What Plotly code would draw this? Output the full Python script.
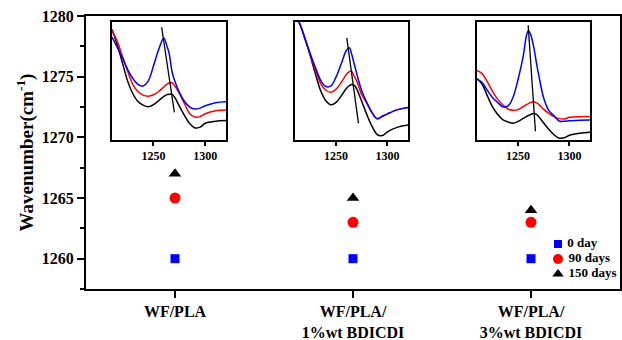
import plotly.graph_objects as go

# ---------------- main data ----------------
categories = ["WF/PLA", "WF/PLA/<br>1%wt BDICDI", "WF/PLA/<br>3%wt BDICDI"]
cat_pos = [0, 1, 2]
day0 = [1260, 1260, 1260]
day90 = [1265, 1263, 1263]
day150 = [1267, 1265, 1264]
y_ticks = [1260, 1265, 1270, 1275, 1280]
series_names = ["0 day", "90 days", "150 days"]

# ---------------- inset spectra (arbitrary units) ----------------
ins1_x = [1210, 1215, 1220, 1225, 1230, 1235, 1240, 1245, 1250, 1255, 1260, 1263,
          1265, 1268, 1270, 1275, 1280, 1285, 1290, 1295, 1300, 1310, 1320]
ins1_blue = [0.870, 0.785, 0.694, 0.595, 0.518, 0.467, 0.453, 0.496, 0.623, 0.765, 0.864, 0.793,
             0.737, 0.572, 0.510, 0.397, 0.320, 0.272, 0.255, 0.263, 0.283, 0.309, 0.317]
ins1_red = [0.926, 0.836, 0.708, 0.581, 0.467, 0.405, 0.374, 0.365, 0.377, 0.405, 0.445, 0.468,
            0.478, 0.480, 0.460, 0.388, 0.300, 0.215, 0.187, 0.190, 0.215, 0.240, 0.246]
ins1_black = [0.935, 0.807, 0.652, 0.496, 0.388, 0.320, 0.289, 0.275, 0.292, 0.326, 0.363, 0.378,
              0.382, 0.380, 0.362, 0.280, 0.198, 0.130, 0.093, 0.100, 0.133, 0.150, 0.156]
ins1_line_x = [1257.9, 1270.2]
ins1_line_y = [0.955, 0.227]

ins2_x = ins1_x
ins2_blue = [1.06, 0.977, 0.850, 0.722, 0.609, 0.501, 0.448, 0.453, 0.530, 0.643, 0.756, 0.780,
             0.728, 0.630, 0.560, 0.411, 0.309, 0.224, 0.172, 0.193, 0.214, 0.250, 0.269]
ins2_red = [1.06, 0.977, 0.850, 0.722, 0.586, 0.473, 0.416, 0.399, 0.425, 0.482, 0.552, 0.575,
            0.578, 0.530, 0.496, 0.377, 0.303, 0.224, 0.172, 0.193, 0.214, 0.250, 0.269]
ins2_black = [1.06, 0.977, 0.850, 0.708, 0.552, 0.411, 0.326, 0.292, 0.312, 0.368, 0.431, 0.455,
              0.465, 0.455, 0.427, 0.320, 0.205, 0.106, 0.037, 0.028, 0.060, 0.100, 0.119]
ins2_line_x = [1260.4, 1271.8]
ins2_line_y = [0.864, 0.133]

ins3_x = [1210, 1215, 1220, 1225, 1230, 1235, 1240, 1245, 1250, 1255, 1258, 1260,
          1262, 1265, 1268, 1270, 1275, 1280, 1285, 1290, 1295, 1300, 1310, 1320]
ins3_blue = [0.510, 0.482, 0.416, 0.354, 0.312, 0.275, 0.280, 0.354, 0.510, 0.708, 0.878, 0.926,
             0.898, 0.796, 0.643, 0.550, 0.347, 0.241, 0.198, 0.153, 0.150, 0.155, 0.158, 0.161]
ins3_red = [0.586, 0.558, 0.490, 0.408, 0.340, 0.292, 0.255, 0.244, 0.250, 0.275, 0.292, 0.302,
            0.310, 0.317, 0.308, 0.297, 0.252, 0.218, 0.190, 0.173, 0.170, 0.184, 0.190, 0.190]
ins3_black = [0.516, 0.467, 0.370, 0.275, 0.210, 0.165, 0.145, 0.133, 0.150, 0.175, 0.190, 0.200,
              0.207, 0.216, 0.210, 0.190, 0.135, 0.080, 0.035, 0.005, 0.010, 0.030, 0.048, 0.057]
ins3_line_x = [1259.8, 1266.9]
ins3_line_y = [0.972, 0.065]

inset_ticks = [1250, 1300]

# ---------------- styles ----------------
BLUE = "#0000ff"
RED = "#ff0000"
BLACK = "#000000"
FONT = "Liberation Serif"
symbols = ["square", "circle", "triangle-up"]
colors = [BLUE, RED, BLACK]
main_sizes = [9, 11, 11]
legend_sizes = [8, 10, 10]

fig = go.Figure()

for vals, name, sym, col, sz in zip([day0, day90, day150], series_names, symbols, colors, main_sizes):
    fig.add_trace(go.Scatter(x=cat_pos, y=vals, mode="markers", name=name, showlegend=False,
                             marker=dict(symbol=sym, size=sz, color=col)))

insets = [
    (ins1_x, ins1_blue, ins1_red, ins1_black, ins1_line_x, ins1_line_y),
    (ins2_x, ins2_blue, ins2_red, ins2_black, ins2_line_x, ins2_line_y),
    (ins3_x, ins3_blue, ins3_red, ins3_black, ins3_line_x, ins3_line_y),
]
for i, (xs, b, r, k, lx, ly) in enumerate(insets):
    ax = str(i + 2)
    for ys, col in [(k, BLACK), (r, RED), (b, BLUE)]:
        fig.add_trace(go.Scatter(x=xs, y=ys, mode="lines", showlegend=False,
                                 line=dict(color=col, width=1.5, shape="spline", smoothing=1.0),
                                 xaxis="x" + ax, yaxis="y" + ax, hoverinfo="skip"))
    fig.add_trace(go.Scatter(x=lx, y=ly, mode="lines", showlegend=False,
                             line=dict(color=BLACK, width=1.3),
                             xaxis="x" + ax, yaxis="y" + ax, hoverinfo="skip"))

# compact legend drawn on its own small axis (entries stacked by index)
NBSP = "\u00a0"
for idx, (name, sym, col, sz) in enumerate(zip(series_names, symbols, colors, legend_sizes)):
    fig.add_trace(go.Scatter(x=[0], y=[idx], mode="markers+text", text=[NBSP + name],
                             textposition="middle right", showlegend=False, hoverinfo="skip",
                             marker=dict(symbol=sym, size=sz, color=col),
                             textfont=dict(family=FONT, size=13, weight="bold", color="black"),
                             xaxis="x5", yaxis="y5", cliponaxis=False))

W, H = 622, 340
ml, mr, mt, mb = 86, 2, 16, 51
pw, ph = W - ml - mr, H - mt - mb

def dx(px):
    return (px - ml) / pw

def dy(py):
    return 1 - (py - mt) / ph

inset_px = [(112, 226), (295, 408), (477, 590)]
inset_top, inset_bot = 22, 140

layout = dict(
    width=W, height=H,
    margin=dict(l=ml, r=mr, t=mt, b=mb),
    paper_bgcolor="white", plot_bgcolor="white",
    font=dict(family=FONT, color="black"),
    showlegend=False,
    xaxis=dict(range=[-0.5, 2.5], tickmode="array", tickvals=cat_pos, ticktext=categories,
               ticks="outside", ticklen=7, tickwidth=2, tickcolor="black",
               showline=True, linewidth=2, linecolor="black", mirror=True,
               showgrid=False, zeroline=False, automargin=False,
               tickfont=dict(family=FONT, size=16, weight="bold", color="black")),
    yaxis=dict(range=[1257.5, 1280], tickmode="array", tickvals=y_ticks,
               ticks="outside", ticklen=7, tickwidth=2, tickcolor="black",
               minor=dict(tickmode="linear", tick0=1257.5, dtick=5, ticks="outside",
                          ticklen=4, tickwidth=2, tickcolor="black", showgrid=False),
               showline=True, linewidth=2, linecolor="black", mirror=True,
               showgrid=False, zeroline=False, automargin=False,
               tickfont=dict(family=FONT, size=16, weight="bold", color="black"),
               title=dict(text="Wavenumber(cm<sup>-1</sup>)", standoff=3,
                          font=dict(family=FONT, size=19, weight="bold", color="black"))),
    xaxis5=dict(domain=[dx(548), dx(618)], anchor="y5", range=[-10 / 70, 60 / 70],
                visible=False, fixedrange=True),
    yaxis5=dict(domain=[dy(281.5), dy(236.5)], anchor="x5", range=[2.5, -0.5],
                visible=False, fixedrange=True),
)
for i, (x0, x1) in enumerate(inset_px):
    ax = str(i + 2)
    layout["xaxis" + ax] = dict(domain=[dx(x0), dx(x1)], anchor="y" + ax, range=[1210, 1320],
                                tickmode="array", tickvals=inset_ticks, ticks="outside",
                                ticklen=4, tickwidth=1.5, tickcolor="black",
                                showline=True, linewidth=1.5, linecolor="black", mirror=True,
                                showgrid=False, zeroline=False,
                                tickfont=dict(family=FONT, size=12, weight="bold", color="black"))
    layout["yaxis" + ax] = dict(domain=[dy(inset_bot), dy(inset_top)], anchor="x" + ax,
                                range=[-0.01, 1.0], showticklabels=False, ticks="",
                                showline=True, linewidth=1.5, linecolor="black", mirror=True,
                                showgrid=False, zeroline=False)
fig.update_layout(**layout)

fig.write_html("out.html")
